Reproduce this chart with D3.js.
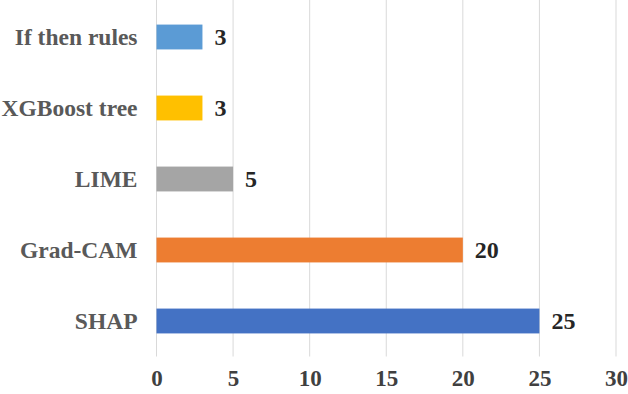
<!DOCTYPE html>
<html>
<head>
<meta charset="utf-8">
<script src="https://cdn.jsdelivr.net/npm/d3@7"></script>
<style>
  body { margin: 0; background: #fff; }
</style>
</head>
<body>
<div id="chart"></div>
<script>
// data
var methods = ['If then rules', 'XGBoost tree', 'LIME', 'Grad-CAM', 'SHAP'];
var counts = [3, 3, 5, 20, 25];
var colors = ['#5B9BD5', '#FFC000', '#A5A5A5', '#ED7D31', '#4472C4'];
var xTicks = [0, 5, 10, 15, 20, 25, 30];

var width = 628, height = 394;
var margin = {left: 156.5, right: 12, top: 1.5, bottom: 37.5};
var fontFamily = '"Liberation Serif", "Times New Roman", serif';

var svg = d3.select('#chart')
    .append('svg')
        .attr('width', width)
        .attr('height', height);

var x = d3.scaleLinear()
    .domain([0, 30])
    .range([margin.left, width - margin.right]);
var y = d3.scaleBand()
    .domain(methods)
    .range([margin.top, height - margin.bottom])
    .paddingInner(0.65)
    .paddingOuter(0.325);

// vertical gridlines
svg.append('g').selectAll('line').data(xTicks)
    .enter().append('line')
    .attr('x1', function(d) { return x(d); })
    .attr('x2', function(d) { return x(d); })
    .attr('y1', 0)
    .attr('y2', height - margin.bottom)
    .attr('stroke', '#d9d9d9')
    .attr('stroke-width', 1);

// x axis labels
var xAxis = svg.append('g')
    .attr('transform', 'translate(0,' + (height - margin.bottom) + ')')
    .call(d3.axisBottom(x).tickValues(xTicks).tickSize(0).tickPadding(13));
xAxis.select('.domain').remove();
xAxis.selectAll('text')
    .style('font-family', fontFamily)
    .style('font-weight', 'bold')
    .style('font-size', '23px')
    .attr('fill', '#404040');

// y axis labels
var yAxis = svg.append('g')
    .attr('transform', 'translate(' + margin.left + ',0)')
    .call(d3.axisLeft(y).tickSize(0).tickPadding(19));
yAxis.select('.domain').remove();
yAxis.selectAll('text')
    .style('font-family', fontFamily)
    .style('font-weight', 'bold')
    .style('font-size', '23.5px')
    .attr('fill', '#595959');

// bars
svg.append('g').selectAll('rect').data(methods)
    .enter().append('rect')
    .attr('x', x(0))
    .attr('y', function(d) { return y(d); })
    .attr('width', function(d, i) { return x(counts[i]) - x(0); })
    .attr('height', y.bandwidth())
    .attr('fill', function(d, i) { return colors[i]; });

// value labels
svg.append('g').selectAll('text').data(methods)
    .enter().append('text')
    .text(function(d, i) { return counts[i]; })
    .attr('x', function(d, i) { return x(counts[i]) + 12; })
    .attr('y', function(d) { return y(d) + y.bandwidth() / 2; })
    .attr('dy', '0.35em')
    .style('font-family', fontFamily)
    .style('font-weight', 'bold')
    .style('font-size', '24px')
    .attr('fill', '#262626');
</script>
</body>
</html>
